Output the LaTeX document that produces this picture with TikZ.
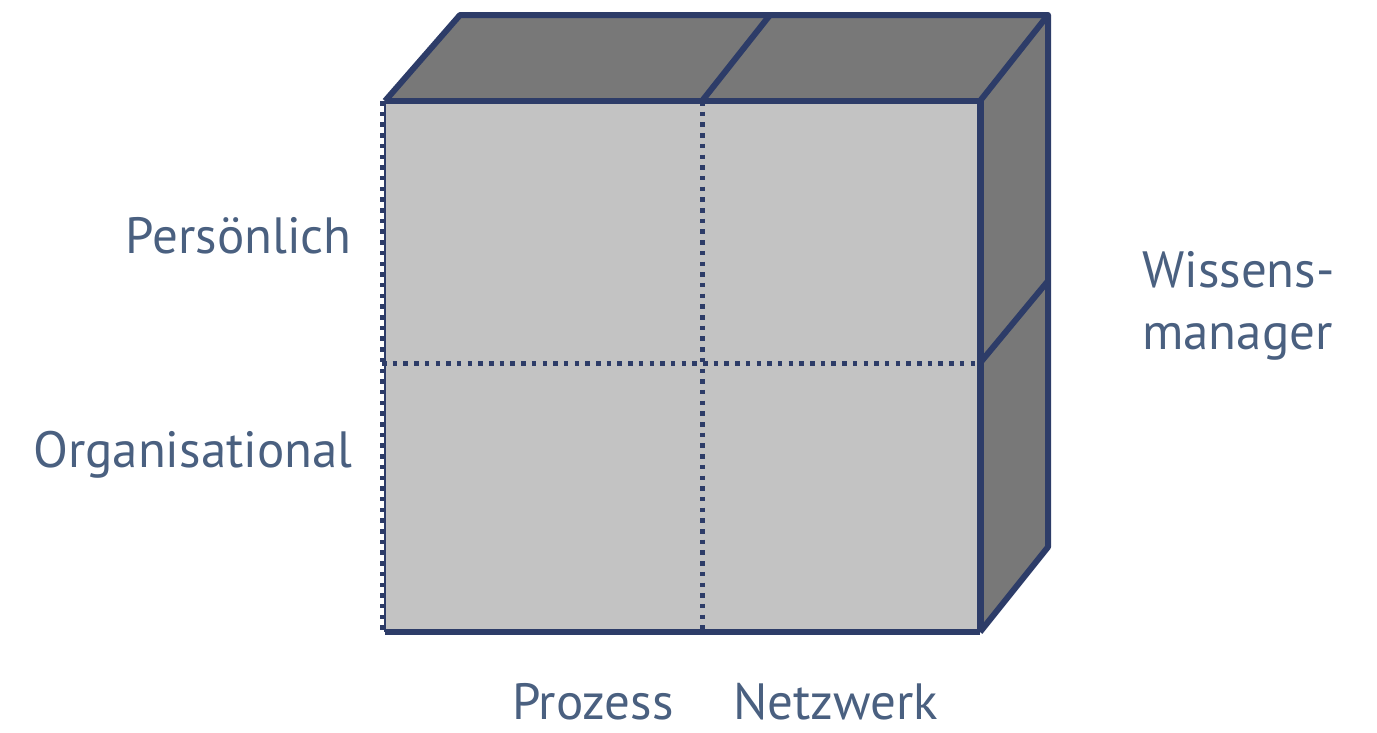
\documentclass[tikz,border=0pt]{standalone}
\usepackage{fontspec}
\setmainfont{PT Sans}
\definecolor{edgeblue}{HTML}{2D3C68}
\definecolor{textblue}{HTML}{4A6080}
\definecolor{frontgray}{HTML}{C3C3C3}
\definecolor{sidegray}{HTML}{787878}
\begin{document}
\begin{tikzpicture}[x=1pt, y=-1pt,
  edge/.style={draw=edgeblue, line width=6pt, line join=round},
  dots/.style={draw=edgeblue, line width=5pt, dash pattern=on 4.5pt off 6.2pt},
  dimlabel/.style={text=textblue, font=\fontsize{51}{62}\selectfont, inner sep=0pt, text depth=0pt}]
    \useasboundingbox (0, 0) rectangle (1377, 732);

    % Cube corners
    \path (385, 101) coordinate (ftl) (980, 101) coordinate (ftr)
          (980, 632) coordinate (fbr) (385, 632) coordinate (fbl)
          (460, 15) coordinate (btl) (1048, 15) coordinate (btr)
          (1048, 547) coordinate (bbr);

    % Faces
    \fill [frontgray] (ftl) rectangle (fbr);
    \fill [sidegray] (ftl) -- (btl) -- (btr) -- (ftr) -- cycle;
    \fill [sidegray] (ftr) -- (btr) -- (bbr) -- (fbr) -- cycle;

    % Dotted dividers on the front
    \path (702, 101) coordinate (mt) (702, 632) coordinate (mb)
          (382, 363) coordinate (ml) (980, 363) coordinate (mr);
    \draw [dots] (mt) -- (mb);
    \draw [dots] (ml) -- (mr);
    \draw [dots] (382, 101) coordinate (dl) -- (382, 632) coordinate (dlb);
    \draw [edgeblue, line width=2.5pt] (ftl) -- (fbl);

    % Dividers on top and side
    \draw [edge] (mt) -- (770, 15) coordinate (mtb);
    \draw [edge] (mr) -- (1048, 281) coordinate (mrb);

    % Edges
    \draw [edge] (ftl) -- (btl) -- (btr) -- (bbr) -- (fbr);
    \draw [edge] (ftl) -- (ftr);
    \draw [edge] (btr) -- (ftr);
    \draw [edge, line width=7pt] (ftr) -- (fbr);
    \draw [edge] (fbl) -- (fbr);

    % Labels
    \node [dimlabel, anchor=base east] (pers) at (352, 253) {Persönlich};
    \node [dimlabel, anchor=base east] (org) at (353, 467) {Organisational};
    \node [dimlabel, anchor=base west] (wis) at (1142, 287) {Wissens-};
    \node [dimlabel, anchor=base west] (man) at (1142, 349) {manager};
    \node [dimlabel, anchor=base west] (proz) at (512, 719) {Prozess};
    \node [dimlabel, anchor=base west] (netz) at (733, 719) {Netzwerk};
\end{tikzpicture}
\end{document}
